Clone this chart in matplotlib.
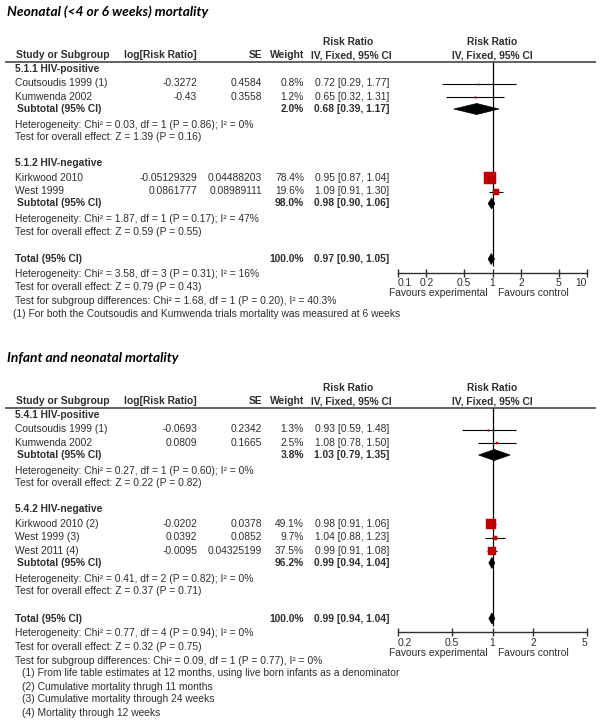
import numpy as np
import matplotlib
matplotlib.use("Agg")
import matplotlib.pyplot as plt
from matplotlib.ticker import NullLocator

plt.rcParams['font.family'] = ['Liberation Sans', 'DejaVu Sans']

# ---- Neonatal (<4 or 6 weeks) mortality ----
neo_title = "Neonatal (<4 or 6 weeks) mortality"
neo_groups = ["5.1.1 HIV-positive", "5.1.2 HIV-negative"]
neo_studies = ["Coutsoudis 1999 (1)", "Kumwenda 2002", "Kirkwood 2010", "West 1999"]
neo_group_of = [0, 0, 1, 1]
neo_logrr = ["-0.3272", "-0.43", "-0.05129329", "0.0861777"]
neo_se = ["0.4584", "0.3558", "0.04488203", "0.08989111"]
neo_weight = [0.8, 1.2, 78.4, 19.6]
neo_rr = [0.72, 0.65, 0.95, 1.09]
neo_lo = [0.29, 0.32, 0.87, 0.91]
neo_hi = [1.77, 1.31, 1.04, 1.30]
neo_sub_weight = [2.0, 98.0]
neo_sub_rr = [0.68, 0.98]
neo_sub_lo = [0.39, 0.90]
neo_sub_hi = [1.17, 1.06]
neo_sub_het = ["Heterogeneity: Chi² = 0.03, df = 1 (P = 0.86); I² = 0%",
               "Heterogeneity: Chi² = 1.87, df = 1 (P = 0.17); I² = 47%"]
neo_sub_z = ["Test for overall effect: Z = 1.39 (P = 0.16)",
             "Test for overall effect: Z = 0.59 (P = 0.55)"]
neo_tot = [100.0, 0.97, 0.90, 1.05]
neo_tot_het = "Heterogeneity: Chi² = 3.58, df = 3 (P = 0.31); I² = 16%"
neo_tot_z = "Test for overall effect: Z = 0.79 (P = 0.43)"
neo_sg_test = "Test for subgroup differences: Chi² = 1.68, df = 1 (P = 0.20), I² = 40.3%"
neo_notes = ["(1) For both the Coutsoudis and Kumwenda trials mortality was measured at 6 weeks"]
neo_ticks = [0.1, 0.2, 0.5, 1, 2, 5, 10]

# ---- Infant and neonatal mortality ----
inf_title = "Infant and neonatal mortality"
inf_groups = ["5.4.1 HIV-positive", "5.4.2 HIV-negative"]
inf_studies = ["Coutsoudis 1999 (1)", "Kumwenda 2002", "Kirkwood 2010 (2)", "West 1999 (3)", "West 2011 (4)"]
inf_group_of = [0, 0, 1, 1, 1]
inf_logrr = ["-0.0693", "0.0809", "-0.0202", "0.0392", "-0.0095"]
inf_se = ["0.2342", "0.1665", "0.0378", "0.0852", "0.04325199"]
inf_weight = [1.3, 2.5, 49.1, 9.7, 37.5]
inf_rr = [0.93, 1.08, 0.98, 1.04, 0.99]
inf_lo = [0.59, 0.78, 0.91, 0.88, 0.91]
inf_hi = [1.48, 1.50, 1.06, 1.23, 1.08]
inf_sub_weight = [3.8, 96.2]
inf_sub_rr = [1.03, 0.99]
inf_sub_lo = [0.79, 0.94]
inf_sub_hi = [1.35, 1.04]
inf_sub_het = ["Heterogeneity: Chi² = 0.27, df = 1 (P = 0.60); I² = 0%",
               "Heterogeneity: Chi² = 0.41, df = 2 (P = 0.82); I² = 0%"]
inf_sub_z = ["Test for overall effect: Z = 0.22 (P = 0.82)",
             "Test for overall effect: Z = 0.37 (P = 0.71)"]
inf_tot = [100.0, 0.99, 0.94, 1.04]
inf_tot_het = "Heterogeneity: Chi² = 0.77, df = 4 (P = 0.94); I² = 0%"
inf_tot_z = "Test for overall effect: Z = 0.32 (P = 0.75)"
inf_sg_test = "Test for subgroup differences: Chi² = 0.09, df = 1 (P = 0.77), I² = 0%"
inf_notes = ["(1) From life table estimates at 12 months, using live born infants as a denominator",
             "(2) Cumulative mortality thrugh 11 months",
             "(3) Cumulative mortality through 24 weeks",
             "(4) Mortality through 12 weeks"]
inf_ticks = [0.2, 0.5, 1, 2, 5]

W, H = 602, 727
FS = 7.4
TXT = "#2e2e2e"
RED = "#C00000"
X0, X1 = 398, 587   # forest plot x range in pixels

fig = plt.figure(figsize=(W / 100, H / 100), dpi=100)
bg = fig.add_axes([0, 0, 1, 1])
bg.set_xlim(0, W)
bg.set_ylim(H, 0)
bg.axis('off')


def txt(x, y, s, ha='left', bold=False, **kw):
    bg.text(x, y, s, ha=ha, va='center', fontsize=FS, color=TXT,
            fontweight='bold' if bold else 'normal', **kw)


def ci_text(rr, lo, hi):
    return f"{rr:.2f} [{lo:.2f}, {hi:.2f}]"


def draw_panel(top, title, groups, studies, group_of, logrr, se, weight, rr, lo, hi,
               sub_weight, sub_rr, sub_lo, sub_hi, sub_het, sub_z,
               tot, tot_het, tot_z, sg_test, notes, ticks, note_x):
    line_y = top + 50
    bg.text(7, top, title, ha='left', va='center', fontsize=9.9, color='black',
            fontweight='bold', fontstyle='italic', family=['Lato', 'DejaVu Sans'])
    # header
    txt(348, line_y - 20, "Risk Ratio", ha='center', bold=True)
    txt(492, line_y - 20, "Risk Ratio", ha='center', bold=True)
    txt(16, line_y - 7, "Study or Subgroup", bold=True)
    txt(197, line_y - 7, "log[Risk Ratio]", ha='right', bold=True)
    txt(262, line_y - 7, "SE", ha='right', bold=True)
    txt(304, line_y - 7, "Weight", ha='right', bold=True)
    txt(351, line_y - 7, "IV, Fixed, 95% CI", ha='center', bold=True)
    txt(492, line_y - 7, "IV, Fixed, 95% CI", ha='center', bold=True)
    bg.plot([6, 595], [line_y, line_y], color='#555555', lw=1.3)

    # row layout
    study_y, sub_y = [], []
    g = line_y + 7
    for k, name in enumerate(groups):
        txt(15, g, name, bold=True)
        idx = [i for i, gi in enumerate(group_of) if gi == k]
        ys = [g + 14.5 + 13.5 * j for j in range(len(idx))]
        study_y += ys
        s_y = ys[-1] + 12
        sub_y.append(s_y)
        txt(15, s_y + 15.5, sub_het[k])
        txt(15, s_y + 28.5, sub_z[k])
        g = s_y + 54.5
    total_y = sub_y[-1] + 55.5
    axis_y = total_y + 13.5

    for i, y in enumerate(study_y):
        txt(15, y, studies[i])
        txt(197, y, logrr[i], ha='right')
        txt(262, y, se[i], ha='right')
        txt(304, y, f"{weight[i]:.1f}%", ha='right')
        txt(389, y, ci_text(rr[i], lo[i], hi[i]), ha='right')
    for k, y in enumerate(sub_y):
        txt(17, y, "Subtotal (95% CI)", bold=True)
        txt(304, y, f"{sub_weight[k]:.1f}%", ha='right', bold=True)
        txt(389, y, ci_text(sub_rr[k], sub_lo[k], sub_hi[k]), ha='right', bold=True)
    txt(15, total_y, "Total (95% CI)", bold=True)
    txt(304, total_y, f"{tot[0]:.1f}%", ha='right', bold=True)
    txt(389, total_y, ci_text(*tot[1:]), ha='right', bold=True)
    txt(15, total_y + 15, tot_het)
    txt(15, total_y + 28, tot_z)
    txt(15, total_y + 42, sg_test)
    for j, n in enumerate(notes):
        txt(note_x, total_y + 55 + 13 * j, n)
    txt(438, axis_y + 21, "Favours experimental", ha='center')
    txt(533, axis_y + 21, "Favours control", ha='center')

    # forest plot
    ax = fig.add_axes([X0 / W, 1 - axis_y / H, (X1 - X0) / W, (axis_y - line_y) / H])
    ax.patch.set_alpha(0)
    ax.set_xscale('log')
    ax.set_xlim(ticks[0], ticks[-1])
    ax.set_ylim(axis_y, line_y)
    for sp in ['top', 'left', 'right']:
        ax.spines[sp].set_visible(False)
    ax.spines['bottom'].set_color(TXT)
    ax.spines['bottom'].set_linewidth(1.0)
    ax.set_yticks([])
    ax.set_xticks(ticks)
    labels = ax.set_xticklabels([f"{t:g}" for t in ticks])
    labels[0].set_ha('left')
    labels[-1].set_ha('right')
    ax.xaxis.set_minor_locator(NullLocator())
    ax.tick_params(axis='x', direction='inout', length=6, width=1, colors=TXT,
                   labelsize=FS, pad=1)
    ax.vlines(1, line_y, total_y + 7, color='black', lw=0.9)
    for i, y in enumerate(study_y):
        ax.plot([lo[i], hi[i]], [y, y], color='black', lw=0.8, solid_capstyle='butt')
        ax.plot(rr[i], y, marker='s', ms=0.95 * np.sqrt(weight[i]), color=RED,
                mec=RED, mew=0.3, ls='none', zorder=3)
    dia = [(sub_y[k], sub_rr[k], sub_lo[k], sub_hi[k]) for k in range(len(sub_y))]
    dia.append((total_y, tot[1], tot[2], tot[3]))
    for y, est, l, h in dia:
        ax.fill([l, est, h, est], [y, y - 5.5, y, y + 5.5], color='black', lw=0.5, zorder=3)


draw_panel(12, neo_title, neo_groups, neo_studies, neo_group_of, neo_logrr, neo_se,
           neo_weight, neo_rr, neo_lo, neo_hi, neo_sub_weight, neo_sub_rr, neo_sub_lo,
           neo_sub_hi, neo_sub_het, neo_sub_z, neo_tot, neo_tot_het, neo_tot_z,
           neo_sg_test, neo_notes, neo_ticks, 13)
draw_panel(358, inf_title, inf_groups, inf_studies, inf_group_of, inf_logrr, inf_se,
           inf_weight, inf_rr, inf_lo, inf_hi, inf_sub_weight, inf_sub_rr, inf_sub_lo,
           inf_sub_hi, inf_sub_het, inf_sub_z, inf_tot, inf_tot_het, inf_tot_z,
           inf_sg_test, inf_notes, inf_ticks, 22)

fig.savefig("out.png", dpi=100)
